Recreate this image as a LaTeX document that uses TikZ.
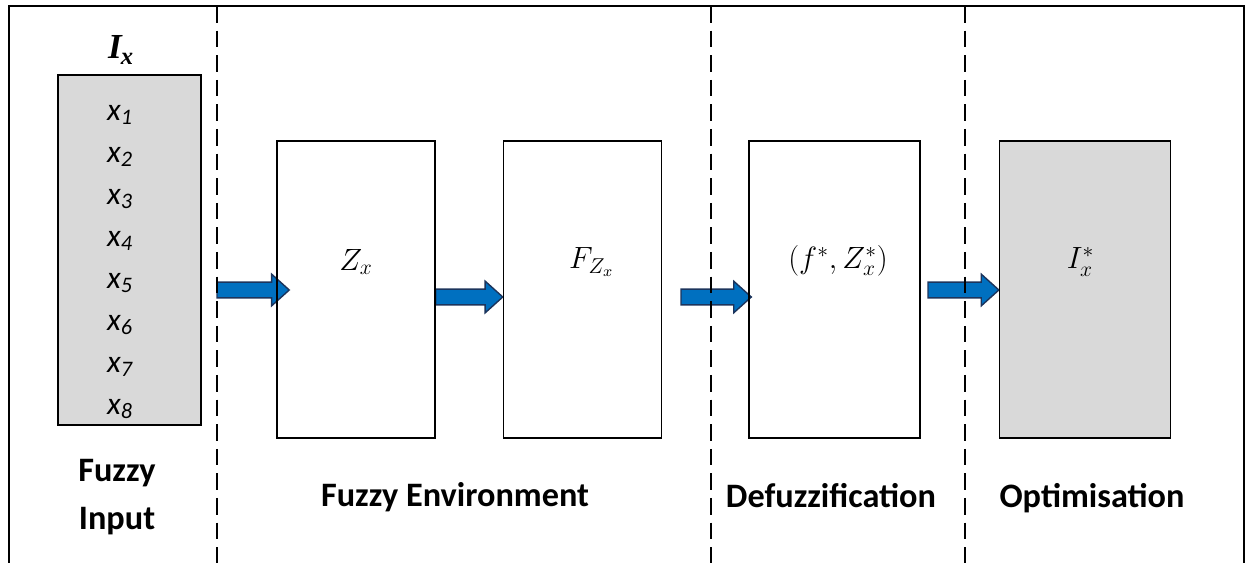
\RequirePackage{fix-cm}
\documentclass[tikz,border=0pt]{standalone}
\usepackage{fontspec}
\setmainfont{Carlito}
\newfontfamily\timesfont{Liberation Serif}
\usepackage{xcolor}
\usepackage{tikz}
\usetikzlibrary{positioning}
\usetikzlibrary{calc}
\usetikzlibrary{backgrounds}
\definecolor{arrowblue}{RGB}{0,112,192}
\definecolor{arrowedge}{RGB}{28,52,92}
\definecolor{boxgray}{RGB}{217,217,217}
\tikzset{%
  stage/.style = {rectangle, draw=black, line width=0.9pt, minimum width=3.16cm, minimum height=5.94cm, inner sep=0pt},
  shaded/.style = {fill=boxgray},
  divider/.style = {line width=0.9pt, dash pattern=on 9.5pt off 4.5pt},
  caption/.style = {font=\fontsize{19.5}{27}\selectfont\bfseries, align=center},
  var/.style = {font=\fontsize{18}{20}\selectfont\itshape},
  mathlbl/.style = {font=\fontsize{17.5}{20}\selectfont},
  flowarrow/.style = {draw=arrowedge, fill=arrowblue, line width=0.8pt,
    to path={let \p1=(\tikztostart), \p2=(\tikztotarget) in
      (\x1,\y1+4.5pt) -- (\x2-10pt,\y1+4.5pt) -- (\x2-10pt,\y1+9pt) -- (\x2,\y1)
      -- (\x2-10pt,\y1-9pt) -- (\x2-10pt,\y1-4.5pt) -- (\x1,\y1-4.5pt) -- cycle}}
}

\begin{document}
\begin{tikzpicture}[x=0.02cm, y=-0.02cm]
  \useasboundingbox (0,0) rectangle (1253,563);

  % outer frame, open at the bottom
  \draw[line width=1.2pt] (9,563) -- (9,6) -- (1244,6) -- (1244,563);

  % input vector
  \node[stage, shaded, minimum width=2.86cm, minimum height=7cm] (input) at (129.5,250) {};
  \node[font=\fontsize{20}{22}\timesfont\bfseries\itshape] (ix) at (121,50) {I\kern-0.5pt\textsubscript{x}};
  \foreach \i in {1,...,8}
    \node[var] (x\i) at (120,73+42*\i) {x\textsubscript{\i}};

  % stages
  \node[stage] (zx) at (356,289.5) {};
  \node[stage, right=1.34cm of zx] (fz) {};
  \node[stage, minimum width=3.42cm, right=1.72cm of fz] (defz) {};
  \node[stage, shaded, minimum width=3.42cm, right=1.56cm of defz] (opt) {};

  \node[mathlbl] (zx-lbl) at ([yshift=0.55cm]zx.center) {$Z_x$};
  \node[mathlbl] (fz-lbl) at ([xshift=0.18cm, yshift=0.55cm]fz.center) {$F_{Z_x}$};
  \node[mathlbl] (defz-lbl) at ([xshift=0.07cm, yshift=0.58cm]defz.center) {$(f^*,Z_x^*)$};
  \node[mathlbl] (opt-lbl) at ([xshift=-0.09cm, yshift=0.55cm]opt.center) {$I_x^*$};

  % arrows
  \coordinate (a1) at (217,290);
  \coordinate (a3) at (681,297);
  \coordinate (a4) at (928,290);
  \begin{pgfonlayer}{background}
    \draw[flowarrow] (a1) to ($(zx.west |- a1)+(13,0)$);
    \draw[flowarrow] ([yshift=-0.15cm]zx.east) to ([yshift=-0.15cm]fz.west);
    \draw[flowarrow] (a3) to ($(defz.west |- a3)+(3,0)$);
    \draw[flowarrow] (a4) to (opt.west |- a4);
  \end{pgfonlayer}

  % section dividers
  \foreach \xd/\nm in {217/d1, 711/d2, 965/d3} {
    \coordinate (\nm) at (\xd,6);
    \draw[divider] (\nm) -- (\xd,563);
  }

  % section captions
  \node[caption] (cap-in) at (117,497) {Fuzzy\\Input};
  \node[caption] (cap-env) at (455,497) {Fuzzy Environment};
  \node[caption] (cap-def) at (831,496) {Defuzzification};
  \node[caption] (cap-opt) at (1092,498) {Optimisation};
\end{tikzpicture}
\end{document}
